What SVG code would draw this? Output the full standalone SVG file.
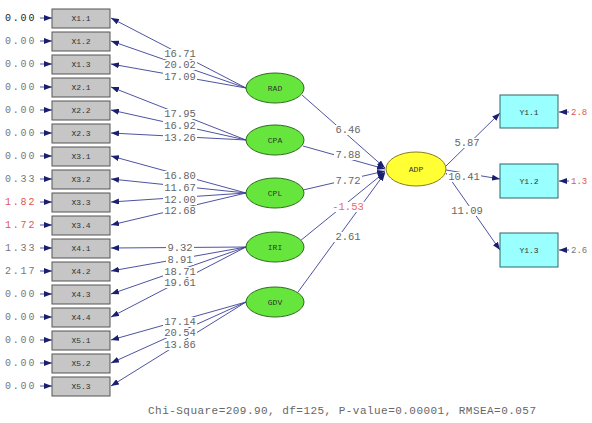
<svg xmlns="http://www.w3.org/2000/svg" width="592" height="423" viewBox="0 0 592 423">
<style>
text{font-family:"Liberation Mono","DejaVu Sans Mono",monospace}
.obs rect{fill:#c6c6c6;stroke:#555;stroke-width:1}
.obs text{font-size:8px;fill:#333;text-anchor:middle}
.lat ellipse{fill:#66e63c;stroke:#2d6a1e;stroke-width:1}
.lat text{font-size:8px;fill:#333;text-anchor:middle}
.err{font-size:10px;fill:#777;letter-spacing:1.8px}
.erri{font-size:9px;fill:#777}
.red{fill:#e05555}
.lbl{font-size:10.5px;fill:#666;text-anchor:middle}
.bg{fill:#fff}
#connectors line{stroke:#3a3f96;stroke-width:0.9;marker-end:url(#ah)}
</style>
<defs>
<marker id="ah" markerUnits="userSpaceOnUse" markerWidth="8" markerHeight="6" refX="8" refY="3" orient="auto">
<path d="M0,0 L8,3 L0,6 z" fill="#1a1f70"/>
</marker>
</defs>
<rect width="592" height="423" fill="#fff"/>
<g id="connectors">
<line x1="40" y1="18" x2="52" y2="18"/>
<line x1="40" y1="41" x2="52" y2="41"/>
<line x1="40" y1="64" x2="52" y2="64"/>
<line x1="40" y1="87" x2="52" y2="87"/>
<line x1="40" y1="110" x2="52" y2="110"/>
<line x1="40" y1="133" x2="52" y2="133"/>
<line x1="40" y1="156" x2="52" y2="156"/>
<line x1="40" y1="179" x2="52" y2="179"/>
<line x1="40" y1="202" x2="52" y2="202"/>
<line x1="40" y1="225" x2="52" y2="225"/>
<line x1="40" y1="248" x2="52" y2="248"/>
<line x1="40" y1="271" x2="52" y2="271"/>
<line x1="40" y1="294" x2="52" y2="294"/>
<line x1="40" y1="317" x2="52" y2="317"/>
<line x1="40" y1="340" x2="52" y2="340"/>
<line x1="40" y1="363" x2="52" y2="363"/>
<line x1="40" y1="386" x2="52" y2="386"/>
<line x1="246" y1="88" x2="111" y2="18"/>
<line x1="246" y1="88" x2="111" y2="41"/>
<line x1="246" y1="88" x2="111" y2="64"/>
<line x1="246" y1="140" x2="111" y2="87"/>
<line x1="246" y1="140" x2="111" y2="110"/>
<line x1="246" y1="140" x2="111" y2="133"/>
<line x1="246" y1="193" x2="111" y2="156"/>
<line x1="246" y1="193" x2="111" y2="179"/>
<line x1="246" y1="193" x2="111" y2="202"/>
<line x1="246" y1="193" x2="111" y2="225"/>
<line x1="246" y1="247" x2="111" y2="248"/>
<line x1="246" y1="247" x2="111" y2="271"/>
<line x1="246" y1="247" x2="111" y2="294"/>
<line x1="246" y1="247" x2="111" y2="317"/>
<line x1="246" y1="302" x2="111" y2="340"/>
<line x1="246" y1="302" x2="111" y2="363"/>
<line x1="246" y1="302" x2="111" y2="386"/>
<line x1="302" y1="95" x2="385" y2="168"/>
<line x1="303" y1="146" x2="385" y2="169"/>
<line x1="303" y1="190" x2="385" y2="171"/>
<line x1="300" y1="241" x2="385" y2="172"/>
<line x1="298" y1="292" x2="385" y2="173"/>
<line x1="446" y1="166" x2="500" y2="113"/>
<line x1="446" y1="170" x2="500" y2="179"/>
<line x1="446" y1="173" x2="500" y2="250"/>
<line x1="569" y1="112" x2="559" y2="112"/>
<line x1="569" y1="181" x2="559" y2="181"/>
<line x1="569" y1="250" x2="559" y2="250"/>
</g>
<g id="path-labels">
<rect class="bg" x="163" y="49" width="34" height="10"/><text class="lbl" x="180" y="57">16.71</text>
<rect class="bg" x="163" y="60" width="34" height="10"/><text class="lbl" x="180" y="68">20.02</text>
<rect class="bg" x="163" y="72" width="34" height="10"/><text class="lbl" x="180" y="80">17.09</text>
<rect class="bg" x="163" y="109" width="34" height="10"/><text class="lbl" x="180" y="117">17.95</text>
<rect class="bg" x="163" y="121" width="34" height="10"/><text class="lbl" x="180" y="129">16.92</text>
<rect class="bg" x="163" y="133" width="34" height="10"/><text class="lbl" x="180" y="141">13.26</text>
<rect class="bg" x="163" y="171" width="34" height="10"/><text class="lbl" x="180" y="179">16.80</text>
<rect class="bg" x="163" y="183" width="34" height="10"/><text class="lbl" x="180" y="191">11.67</text>
<rect class="bg" x="163" y="195" width="34" height="10"/><text class="lbl" x="180" y="203">12.00</text>
<rect class="bg" x="163" y="206" width="34" height="10"/><text class="lbl" x="180" y="214">12.68</text>
<rect class="bg" x="166" y="243" width="28" height="10"/><text class="lbl" x="180" y="251">9.32</text>
<rect class="bg" x="166" y="255" width="28" height="10"/><text class="lbl" x="180" y="263">8.91</text>
<rect class="bg" x="163" y="267" width="34" height="10"/><text class="lbl" x="180" y="275">18.71</text>
<rect class="bg" x="163" y="278" width="34" height="10"/><text class="lbl" x="180" y="286">19.61</text>
<rect class="bg" x="163" y="317" width="34" height="10"/><text class="lbl" x="180" y="325">17.14</text>
<rect class="bg" x="163" y="328" width="34" height="10"/><text class="lbl" x="180" y="336">20.54</text>
<rect class="bg" x="163" y="340" width="34" height="10"/><text class="lbl" x="180" y="348">13.86</text>
<rect class="bg" x="334" y="125" width="28" height="10"/><text class="lbl" x="348" y="133">6.46</text>
<rect class="bg" x="334" y="150" width="28" height="10"/><text class="lbl" x="348" y="158">7.88</text>
<rect class="bg" x="334" y="176" width="28" height="10"/><text class="lbl" x="348" y="184">7.72</text>
<rect class="bg" x="331" y="202" width="34" height="10"/><text class="lbl" x="348" y="210" style="fill:#e86a6a">-1.53</text>
<rect class="bg" x="334" y="232" width="28" height="10"/><text class="lbl" x="348" y="240">2.61</text>
<rect class="bg" x="453" y="138" width="28" height="10"/><text class="lbl" x="467" y="146">5.87</text>
<rect class="bg" x="447" y="172" width="34" height="10"/><text class="lbl" x="464" y="180">10.41</text>
<rect class="bg" x="450" y="206" width="34" height="10"/><text class="lbl" x="467" y="214">11.09</text>
</g>
<g id="errors-left">
<text class="err" x="5" y="21" style="fill:#222">0.00</text>
<text class="err" x="5" y="44">0.00</text>
<text class="err" x="5" y="67">0.00</text>
<text class="err" x="5" y="90">0.00</text>
<text class="err" x="5" y="113">0.00</text>
<text class="err" x="5" y="136">0.00</text>
<text class="err" x="5" y="159">0.00</text>
<text class="err" x="5" y="182">0.33</text>
<text class="err red" x="5" y="205">1.82</text>
<text class="err red" x="5" y="228">1.72</text>
<text class="err" x="5" y="251">1.33</text>
<text class="err" x="5" y="274">2.17</text>
<text class="err" x="5" y="297">0.00</text>
<text class="err" x="5" y="320">0.00</text>
<text class="err" x="5" y="343">0.00</text>
<text class="err" x="5" y="366">0.00</text>
<text class="err" x="5" y="389">0.00</text>
</g>
<g id="errors-right">
<text class="erri red" x="571" y="115">2.8</text>
<text class="erri red" x="571" y="184">1.3</text>
<text class="erri" x="571" y="253">2.6</text>
</g>
<g id="X1.1" class="obs"><rect x="52" y="9" width="58" height="19"/><text x="81" y="21">X1.1</text></g>
<g id="X1.2" class="obs"><rect x="52" y="32" width="58" height="19"/><text x="81" y="44">X1.2</text></g>
<g id="X1.3" class="obs"><rect x="52" y="55" width="58" height="19"/><text x="81" y="67">X1.3</text></g>
<g id="X2.1" class="obs"><rect x="52" y="78" width="58" height="19"/><text x="81" y="90">X2.1</text></g>
<g id="X2.2" class="obs"><rect x="52" y="101" width="58" height="19"/><text x="81" y="113">X2.2</text></g>
<g id="X2.3" class="obs"><rect x="52" y="124" width="58" height="19"/><text x="81" y="136">X2.3</text></g>
<g id="X3.1" class="obs"><rect x="52" y="147" width="58" height="19"/><text x="81" y="159">X3.1</text></g>
<g id="X3.2" class="obs"><rect x="52" y="170" width="58" height="19"/><text x="81" y="182">X3.2</text></g>
<g id="X3.3" class="obs"><rect x="52" y="193" width="58" height="19"/><text x="81" y="205">X3.3</text></g>
<g id="X3.4" class="obs"><rect x="52" y="216" width="58" height="19"/><text x="81" y="228">X3.4</text></g>
<g id="X4.1" class="obs"><rect x="52" y="239" width="58" height="19"/><text x="81" y="251">X4.1</text></g>
<g id="X4.2" class="obs"><rect x="52" y="262" width="58" height="19"/><text x="81" y="274">X4.2</text></g>
<g id="X4.3" class="obs"><rect x="52" y="285" width="58" height="19"/><text x="81" y="297">X4.3</text></g>
<g id="X4.4" class="obs"><rect x="52" y="308" width="58" height="19"/><text x="81" y="320">X4.4</text></g>
<g id="X5.1" class="obs"><rect x="52" y="331" width="58" height="19"/><text x="81" y="343">X5.1</text></g>
<g id="X5.2" class="obs"><rect x="52" y="354" width="58" height="19"/><text x="81" y="366">X5.2</text></g>
<g id="X5.3" class="obs"><rect x="52" y="377" width="58" height="19"/><text x="81" y="389">X5.3</text></g>
<g id="RAD" class="lat"><ellipse cx="275" cy="88" rx="29" ry="15"/><text x="275" y="91">RAD</text></g>
<g id="CPA" class="lat"><ellipse cx="275" cy="140" rx="29" ry="15"/><text x="275" y="143">CPA</text></g>
<g id="CPL" class="lat"><ellipse cx="275" cy="193" rx="29" ry="15"/><text x="275" y="196">CPL</text></g>
<g id="IRI" class="lat"><ellipse cx="275" cy="247" rx="29" ry="15"/><text x="275" y="250">IRI</text></g>
<g id="GDV" class="lat"><ellipse cx="275" cy="302" rx="29" ry="15"/><text x="275" y="305">GDV</text></g>
<g id="ADP" class="lat"><ellipse cx="416" cy="169" rx="30" ry="17" style="fill:#ffff33;stroke:#8a7a20"/><text x="416" y="172">ADP</text></g>
<g id="Y1.1" class="obs"><rect x="500" y="95" width="58" height="33" style="fill:#99ffff;stroke:#336666"/><text x="529" y="115">Y1.1</text></g>
<g id="Y1.2" class="obs"><rect x="500" y="164" width="58" height="34" style="fill:#99ffff;stroke:#336666"/><text x="529" y="184">Y1.2</text></g>
<g id="Y1.3" class="obs"><rect x="500" y="233" width="58" height="34" style="fill:#99ffff;stroke:#336666"/><text x="529" y="253">Y1.3</text></g>
<text x="148" y="414" textLength="388" style="font-size:11px;fill:#666">Chi-Square=209.90, df=125, P-value=0.00001, RMSEA=0.057</text>
</svg>
